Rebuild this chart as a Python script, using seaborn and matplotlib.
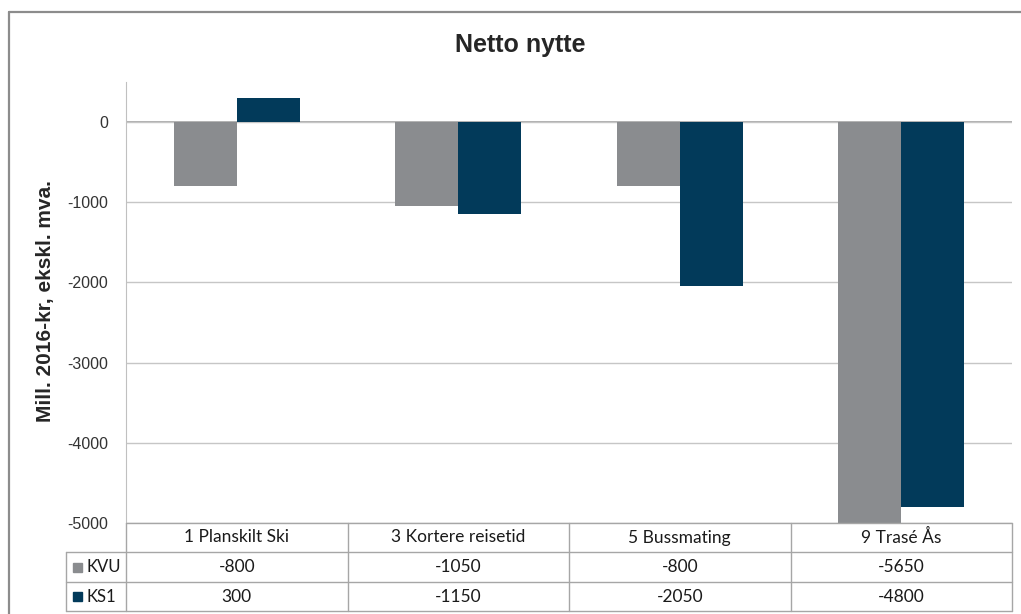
import matplotlib
matplotlib.use("Agg")
import matplotlib.pyplot as plt
from matplotlib.patches import Rectangle
from matplotlib.lines import Line2D
import pandas as pd
import seaborn as sns

# Data
categories = ["1 Planskilt Ski", "3 Kortere reisetid", "5 Bussmating", "9 Trasé Ås"]
series = ["KVU", "KS1"]
kvu = [-800, -1050, -800, -5650]
ks1 = [300, -1150, -2050, -4800]
colors = ["#8a8c8f", "#023a5a"]
yticks = [0, -1000, -2000, -3000, -4000, -5000]

df = pd.DataFrame({
    "kategori": categories * 2,
    "serie": [series[0]] * len(categories) + [series[1]] * len(categories),
    "verdi": kvu + ks1,
})

sns.set_style("white")
plt.rcParams["font.family"] = ["Liberation Sans", "DejaVu Sans"]

W, H = 1021, 614
fig = plt.figure(figsize=(W / 100, H / 100), dpi=100)

def fx(px):
    return px / W

def fy(py):
    return 1 - py / H

# Plot area
left, right, top, bottom = 126, 1012, 82, 523
ax = fig.add_axes([fx(left), fy(bottom), fx(right - left), fy(top) - fy(bottom)])

sns.barplot(data=df, x="kategori", y="verdi", hue="serie", order=categories,
            hue_order=series, palette=colors, width=0.57, saturation=1,
            linewidth=0, legend=False, ax=ax)

ax.set_ylim(-5000, 500)
ax.set_xlim(-0.5, len(categories) - 0.5)
ax.set_yticks(yticks)
ax.set_yticklabels([str(t) for t in yticks], fontsize=11.5, color="#333333")
ax.tick_params(axis="y", length=0, pad=13)
ax.set_xticks([])
ax.set_xlabel("")
ax.set_ylabel("")
ax.yaxis.grid(True, color="#c6c6c6", linewidth=1)
ax.set_axisbelow(True)
for side in ["top", "right", "bottom"]:
    ax.spines[side].set_visible(False)
ax.spines["left"].set_color("#c0c0c0")
ax.axhline(0, color="#a0a0a0", linewidth=1.2, zorder=0.5)

fig.text(fx(520), fy(45), "Netto nytte", ha="center", va="center",
         fontsize=18, fontweight="bold")
fig.text(fx(46), fy(301), "Mill. 2016-kr, ekskl. mva.", ha="center", va="center",
         rotation=90, fontsize=15, fontweight="bold")

# Outer chart border
fig.add_artist(Line2D([fx(9), 1], [fy(12), fy(12)], color="#8c8c8c", lw=1.6))
fig.add_artist(Line2D([fx(9), fx(9)], [fy(12), 0], color="#8c8c8c", lw=1.6))

# Data table below the plot area
tcol = "#a6a6a6"
tfont = ["Lato", "DejaVu Sans"]
tsize = 12.5
rows = [523, 552, 582, 611]
col_edges = [left + i * (right - left) / len(categories) for i in range(len(categories) + 1)]
label_left = 66

def hline(x0, x1, y):
    fig.add_artist(Line2D([fx(x0), fx(x1)], [fy(y), fy(y)], color=tcol, lw=1))

def vline(x, y0, y1):
    fig.add_artist(Line2D([fx(x), fx(x)], [fy(y0), fy(y1)], color=tcol, lw=1))

hline(left, right, rows[0])
for r in rows[1:]:
    hline(label_left, right, r)
for x in col_edges:
    vline(x, rows[0], rows[-1])
vline(label_left, rows[1], rows[-1])

for i, cat in enumerate(categories):
    cx = (col_edges[i] + col_edges[i + 1]) / 2
    fig.text(fx(cx), fy((rows[0] + rows[1]) / 2), cat, ha="center", va="center",
             fontsize=tsize, family=tfont, color="#1a1a1a")
    for j, vals in enumerate([kvu, ks1]):
        fig.text(fx(cx), fy((rows[j + 1] + rows[j + 2]) / 2), str(vals[i]),
                 ha="center", va="center", fontsize=tsize, family=tfont, color="#1a1a1a")

for j, name in enumerate(series):
    yc = (rows[j + 1] + rows[j + 2]) / 2
    fig.add_artist(Rectangle((fx(73), fy(yc + 4.5)), fx(9), fy(0) - fy(9),
                             color=colors[j], transform=fig.transFigure))
    fig.text(fx(87), fy(yc), name, ha="left", va="center", fontsize=12,
             family=tfont, color="#1a1a1a")

fig.savefig("out.png", dpi=100)
